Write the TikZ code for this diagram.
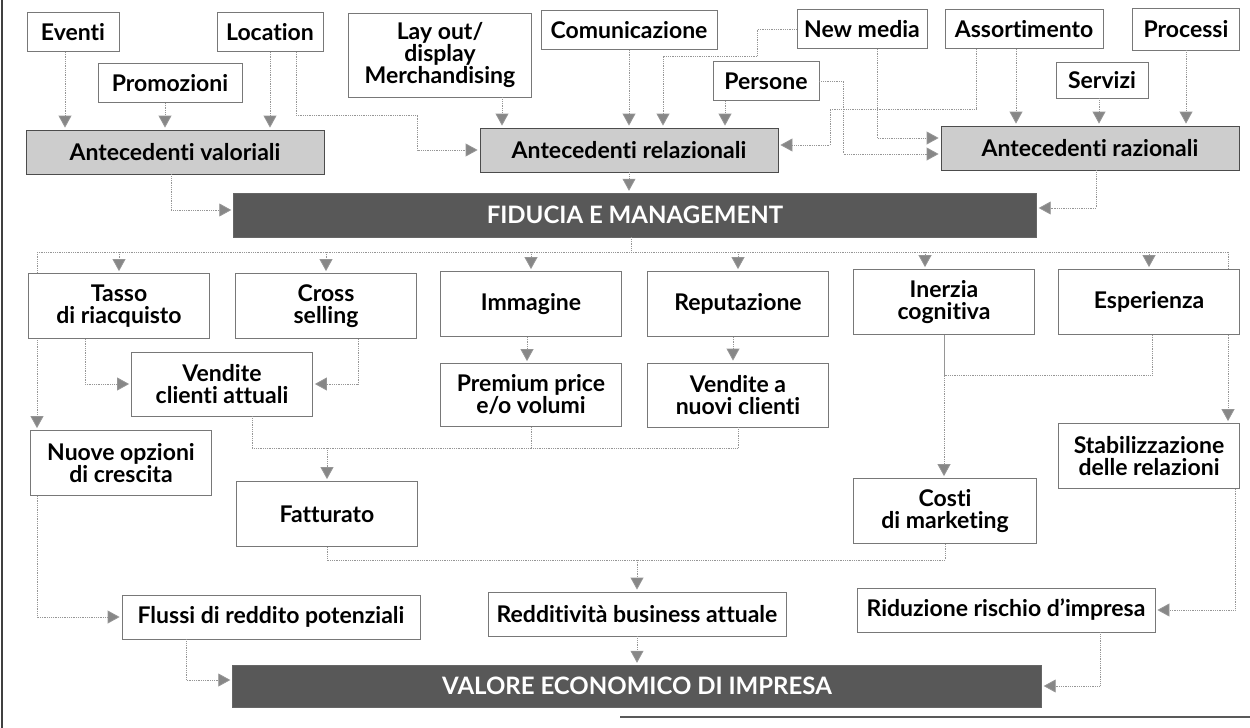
\documentclass[tikz,border=0pt]{standalone}
\usepackage{fontspec}
\setmainfont{Lato}[Ligatures={TeX,NoCommon}]
\usetikzlibrary{arrows.meta,backgrounds}
\definecolor{BoxClr}{RGB}{120,120,120}
\definecolor{AnteClr}{RGB}{205,205,205}
\definecolor{BarClr}{RGB}{88,88,88}
\definecolor{LinkClr}{RGB}{150,150,150}
\definecolor{TipClr}{RGB}{135,135,135}

\begin{document}
\begin{tikzpicture}[x=1pt,y=-1pt,
  box/.style={draw=BoxClr,line width=0.8pt,fill=white,align=center,inner sep=0pt,
    font=\bfseries\fontsize{23}{22}\selectfont,minimum width=181,minimum height=65},
  smallbox/.style={box,minimum height=39},
  widebox/.style={box,minimum width=298,minimum height=44},
  ante/.style={widebox,fill=AnteClr,draw=black!70},
  bar/.style={draw=black!60,fill=BarClr,text=white,inner sep=0pt,
    font=\bfseries\fontsize{24}{26}\selectfont,minimum height=44},
  link/.style={LinkClr,line width=0.8pt,densely dotted},
  arr/.style={link,-{Triangle[width=13pt,length=12pt,fill=TipClr]},shorten >=2pt}
]
\useasboundingbox (0,0) rectangle (1250,728);

% frame
\draw[line width=1.5pt,black!75] (2,0) -- (2,728);
\draw[line width=2pt,black!65] (620,717) -- (1250,717);

% antecedents
\node[smallbox,minimum width=92] (eventi) at (73,32) {Eventi};
\node[smallbox,minimum width=106] (location) at (270,32) {Location};
\node[smallbox,minimum width=144] (promozioni) at (170,83) {Promozioni};
\node[box,minimum width=183,minimum height=84] (layout) at (440,55) {Lay out/\\display\\Merchandising};
\node[smallbox,minimum width=176] (comunicazione) at (629,30) {Comunicazione};
\node[smallbox,minimum width=130] (newmedia) at (862,29) {New media};
\node[smallbox,minimum width=106] (persone) at (766,81) {Persone};
\node[smallbox,minimum width=158] (assortimento) at (1024,29) {Assortimento};
\node[smallbox,minimum width=92,minimum height=36] (servizi) at (1102,80) {Servizi};
\node[smallbox,minimum width=107,minimum height=42] (processi) at (1186,29) {Processi};

\node[ante] (valoriali) at (175,152) {Antecedenti valoriali};
\node[ante] (relazionali) at (629,150) {Antecedenti relazionali};
\node[ante] (razionali) at (1090,148) {Antecedenti razionali};
\node[bar,minimum width=803] (fiducia) at (635,215) {FIDUCIA E MANAGEMENT};

% effects
\node[box] (tasso) at (119,306) {Tasso\\di riacquisto};
\node[box] (cross) at (326,306) {Cross\\selling};
\node[box] (immagine) at (531,304) {Immagine};
\node[box] (reputazione) at (738,304) {Reputazione};
\node[box] (inerzia) at (944,302) {Inerzia\\cognitiva};
\node[box] (esperienza) at (1149,302) {Esperienza};
\node[box,minimum height=64] (vendite) at (222,384) {Vendite\\clienti attuali};
\node[box,minimum height=63] (premium) at (531,395) {Premium price\\e/o volumi};
\node[box,minimum height=64] (nuovi) at (738,395) {Vendite a\\nuovi clienti};
\node[box] (nuove) at (121,463) {Nuove opzioni\\di crescita};
\node[box] (stabil) at (1149,456) {Stabilizzazione\\delle relazioni};
\node[box] (fatturato) at (327,514) {Fatturato};
\node[box,minimum width=183] (costi) at (945,511) {Costi\\di marketing};
\node[widebox] (flussi) at (271,617) {Flussi di reddito potenziali};
\node[widebox] (redditivita) at (637,614) {Redditività business attuale};
\node[widebox] (riduzione) at (1006,610) {Riduzione rischio d'impresa};
\node[bar,minimum width=809,minimum height=42] (valore) at (637,686) {VALORE ECONOMICO DI IMPRESA};

% links into the antecedents
\draw[arr] ([xshift=-8pt]eventi.south) -- ([xshift=-8pt]eventi.south |- valoriali.north);
\draw[arr] ([xshift=-5pt]promozioni.south) -- ([xshift=-5pt]promozioni.south |- valoriali.north);
\draw[arr] (location.south) -- (location.south |- valoriali.north);
\draw[arr] ([xshift=26pt]location.south) -- ++(0,63) -| ([xshift=-62pt]relazionali.west) -- (relazionali.west);
\draw[arr] ([xshift=62pt]layout.south) -- ([xshift=62pt]layout.south |- relazionali.north);
\draw[arr] (comunicazione.south) -- (comunicazione.south |- relazionali.north);
\draw[arr] (newmedia.west) -- ++(-39,0) -- ++(0,27) -| ([xshift=34pt]relazionali.north);
\draw[arr] ([xshift=-41pt]persone.south) -- ([xshift=-41pt]persone.south |- relazionali.north);
\draw[arr] (persone.east) -- ++(24,0) |- ([yshift=-6pt]razionali.west);
\draw[arr] ([xshift=15pt]newmedia.south) |- ([yshift=10pt]razionali.west);
\draw[arr] ([xshift=-48pt]assortimento.south) -- ++(0,60) -- ++(-146,0) |- ([yshift=5pt]relazionali.east);
\draw[arr] ([xshift=-8pt]assortimento.south) -- ([xshift=-8pt]assortimento.south |- razionali.north);
\draw[arr] ([xshift=-3pt]servizi.south) -- ([xshift=-3pt]servizi.south |- razionali.north);
\draw[arr] (processi.south) -- (processi.south |- razionali.north);

% into trust
\draw[arr] ([xshift=-4pt]valoriali.south) |- ([yshift=5pt]fiducia.west);
\draw[arr] (relazionali.south) -- (relazionali.south |- fiducia.north);
\draw[arr] ([xshift=6pt]razionali.south) |- ([yshift=7pt]fiducia.east);

% distribution below trust
\coordinate (busL) at (37,252);
\coordinate (busR) at (1228,252);
\draw[link] ([xshift=-4pt]fiducia.south) -- ++(0,14);
\draw[link] (busL) -- (busR);
\begin{scope}[on background layer]
\draw[arr] (busL) -- (busL |- nuove.north);
\draw[arr] (busR) -- (busR |- stabil.north);
\end{scope}
\foreach \n in {tasso,cross,immagine,reputazione,esperienza}
  \draw[arr] (\n.north |- busL) -- (\n.north);
\draw[arr] ([xshift=-19pt]inerzia.north |- busL) -- ([xshift=-19pt]inerzia.north);

% sales and revenue
\draw[arr] ([xshift=-34pt]tasso.south) |- (vendite.west);
\draw[arr] ([xshift=32pt]cross.south) |- (vendite.east);
\draw[arr] ([xshift=-4pt]immagine.south) -- ([xshift=-4pt]immagine.south |- premium.north);
\draw[arr] ([xshift=-5pt]reputazione.south) -- ([xshift=-5pt]reputazione.south |- nuovi.north);
\draw[link] ([xshift=30pt]vendite.south) -- ++(0,32) coordinate (sumL) -| (nuovi.south);
\draw[link] (premium.south) -- (premium.south |- sumL);
\draw[arr] (fatturato.north |- sumL) -- (fatturato.north);

% costs
\draw[arr] (inerzia.south) -- (inerzia.south |- costi.north);
\draw[link] ([xshift=3pt]esperienza.south) -- ++(0,40) -| (inerzia.south);
\draw[link] (fatturato.south) -- ++(0,13) coordinate (sumR) -| (costi.south);
\draw[arr] (redditivita.north |- sumR) -- (redditivita.north);

% into value
\draw[arr] ([xshift=-84pt]nuove.south) |- (flussi.west);
\draw[arr] ([xshift=86pt]stabil.south) |- (riduzione.east);
\draw[arr] ([xshift=-85pt]flussi.south) |- ([yshift=6pt]valore.west);
\draw[arr] (redditivita.south) -- (redditivita.south |- valore.north);
\draw[arr] ([xshift=94pt]riduzione.south) |- (valore.east);
\end{tikzpicture}
\end{document}
